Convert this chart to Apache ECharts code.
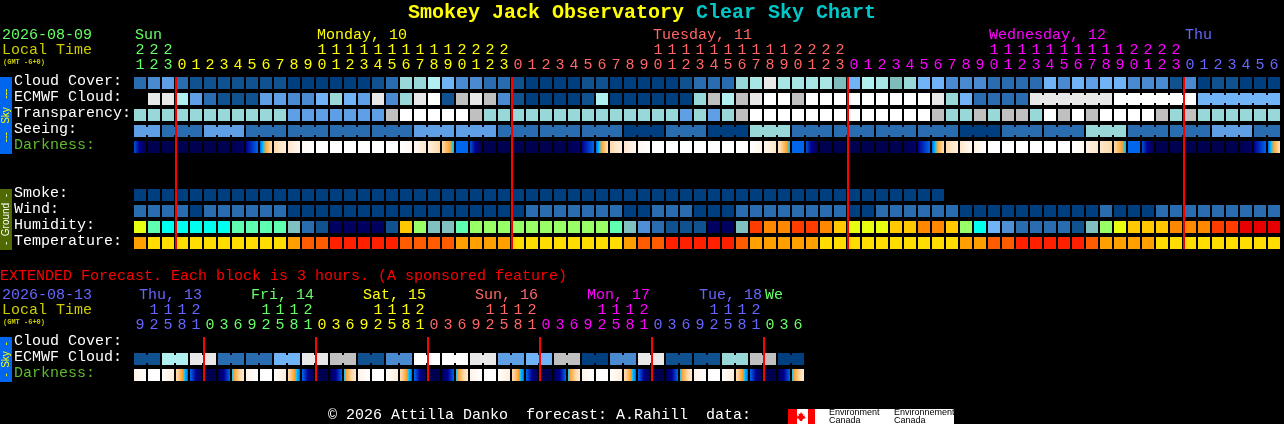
<!DOCTYPE html>
<html><head><meta charset="utf-8">
<style>html,body{margin:0;padding:0;background:#000;overflow:hidden}#c{width:1284px;height:424px}</style>
<script src="https://cdn.jsdelivr.net/npm/echarts@6/dist/echarts.min.js"></script>
</head><body><div id="c"></div>
<script>
const FONT = '"Liberation Mono", monospace';
const rowNames = ['Cloud Cover:', 'ECMWF Cloud:', 'Transparency:', 'Seeing:', 'Darkness:', '', '', 'Smoke:', 'Wind:', 'Humidity:', 'Temperature:'];
const extRowNames = ['Cloud Cover:', 'ECMWF Cloud:', 'Darkness:'];
const hours = [21,22,23,0,1,2,3,4,5,6,7,8,9,10,11,12,13,14,15,16,17,18,19,20,21,22,23,0,1,2,3,4,5,6,7,8,9,10,11,12,13,14,15,16,17,18,19,20,21,22,23,0,1,2,3,4,5,6,7,8,9,10,11,12,13,14,15,16,17,18,19,20,21,22,23,0,1,2,3,4,5,6];
const extHours = [9,12,15,18,21,0,3,6,9,12,15,18,21,0,3,6,9,12,15,18,21,0,3,6,9,12,15,18,21,0,3,6,9,12,15,18,21,0,3,6,9,12,15,18,21,0,3,6];
const midnights = [3,27,51,75];
const extMidnights = [5,13,21,29,37,45];
const dayColors = ['#66ff66','#ffff00','#ff6666','#ff00ff','#6666ff'];
const extDayColors = ['#6666ff','#66ff66','#ffff00','#ff6666','#ff00ff','#6666ff','#66ff66'];
const dayLabels = ['Sun','Monday, 10','Tuesday, 11','Wednesday, 12','Thu'];
const dayLabelCols = [0,13,37,61,75];
const extDayLabels = ['Thu, 13','Fri, 14','Sat, 15','Sun, 16','Mon, 17','Tue, 18','We'];
const extDayLabelX = [139,251,363,475,587,699,765];

/* sky scale, darkest to lightest */
const skyPalette = ['#003f7f','#10528f','#2a6cb0','#4a8ad0','#5f9fe5','#70b4f7','#98d8d8','#a8e6e6','#b0f0f0','#e8e8e8','#c0c0c0','#ffffff','#7fbdbd'];
const cloudCover = [2,3,4,2,1,1,1,1,1,1,1,0,0,0,0,0,0,1,2,6,6,8,5,3,3,2,2,1,0,0,0,0,1,1,0,0,0,0,0,1,2,2,2,6,7,9,7,7,7,7,12,5,8,7,12,6,5,5,3,3,3,2,2,2,2,5,3,5,4,5,5,3,3,3,1,3,0,1,1,0,0,0];
const ecmwfCloud = [-1,9,9,8,4,2,1,1,1,4,4,3,3,5,6,5,4,9,3,6,9,11,1,10,9,10,3,1,0,0,0,0,1,8,0,0,0,0,0,0,6,10,8,10,9,11,11,10,11,11,11,11,11,11,11,11,11,9,6,5,2,2,2,2,9,9,9,9,9,9,11,11,11,11,11,11,5,5,5,5,5,5];
const ecmwfMerged = [[64,69],[70,75],[76,81]];
const transparency = [6,6,6,6,6,6,6,6,6,6,6,4,4,4,4,4,4,4,10,11,11,11,11,11,10,6,6,6,6,6,6,6,6,6,6,6,6,6,6,4,6,4,6,10,11,11,11,11,11,11,11,11,11,11,11,11,11,10,6,6,10,6,10,10,6,11,10,11,10,11,11,11,11,10,6,10,6,6,6,6,6,6];
const seeingBlocks = [2,3,3,3,3,3,3,3,3,3,3,3,3,3,3,3,3,3,3,3,3,3,3,3,3,3,3,2];
const seeing = [4,2,4,2,2,2,2,4,4,2,2,2,0,2,0,6,2,2,2,2,0,2,2,6,2,2,4,2];
const smoke = [0,0,0,0,0,0,0,0,0,0,0,0,0,0,0,0,0,0,0,0,0,0,0,0,0,0,0,0,0,0,0,0,0,0,0,0,0,0,0,0,0,0,0,0,0,0,0,0,0,0,0,0,0,0,0,0,0,0];
const wind = [2,2,2,2,0,2,2,2,2,2,2,0,0,0,0,0,0,0,0,0,0,0,0,0,0,0,0,0,2,2,2,2,2,2,2,0,0,2,2,2,0,0,0,2,2,2,2,2,2,2,2,0,0,2,2,2,2,2,2,0,0,0,0,0,0,0,0,0,0,2,0,0,0,2,2,2,2,2,2,2,2,2];

const humidityPalette = ['#000060','#10528f','#2a6cb0','#4f8fd6','#70b4f7','#80c0c0','#00ffee','#5effb0','#99ff66','#e8ff10','#ffc800','#ff8800','#ff3c00','#e80000'];
const humidity = [9,7,6,6,6,6,6,7,7,7,7,5,2,1,0,0,0,0,1,10,8,5,5,7,8,8,8,8,8,8,8,8,8,8,7,5,3,2,1,1,1,0,0,5,12,11,11,12,12,11,10,9,9,9,10,10,11,11,10,8,6,4,3,2,2,2,2,1,5,8,9,10,10,10,11,11,11,12,12,13,13,13];
const temperaturePalette = ['#ff2000','#ff5c00','#ffa000','#ffdd00'];
const temperature = [2,3,3,3,3,3,3,3,3,3,3,2,1,1,0,0,0,0,0,1,1,1,1,2,2,2,2,3,3,3,3,3,3,3,3,2,1,1,0,0,0,0,0,1,2,2,2,2,2,3,3,3,3,3,3,3,3,3,3,2,2,1,1,0,0,0,0,0,1,2,2,2,2,3,3,3,3,3,3,3,3,3];

/* darkness: 0 = full daylight ... 6 = full night, at each block's left and right edge */
const darkScale = [[0,'#ffffff'],[1,'#fff0e0'],[2,'#ffd9a6'],[3,'#ffa030'],[3.4,'#00c8ff'],[4,'#0066ee'],[5,'#000090'],[6,'#000050']];
const darkStart = [4.2,6,6,6,6,6,6,6,5,4,1.9,1.4,.5,0,0,0,0,0,0,0,.5,1,2,4,4.2,6,6,6,6,6,6,6,5,4,1.9,1.4,.5,0,0,0,0,0,0,0,0,.6,1.6,4,4.2,6,6,6,6,6,6,6,5,4,1.9,1.4,1,0,0,0,0,0,0,0,1,1.4,2,4,4.2,6,6,6,6,6,6,6,5,4];
const darkEnd   = [6,6,6,6,6,6,6,5.6,4,1.8,1,.5,0,0,0,0,0,0,0,.5,1.4,2,3.5,4,6,6,6,6,6,6,6,5.6,4,1.8,1,.5,0,0,0,0,0,0,0,0,.6,1.5,3.5,4,6,6,6,6,6,6,6,5.6,4,1.8,1,.5,0,0,0,0,0,0,0,.5,1.4,2,3.5,4,6,6,6,6,6,6,6,5.6,4,1.8];
const extEcmwf = [1,8,9,2,2,5,9,10,1,3,11,11,9,4,5,10,0,3,9,1,1,6,10,0];
const extDarkStart = [.8,0,0,1.8,4,6,6,3.4,.8,0,0,1.8,4,6,6,3.4,.8,0,0,1.8,4,6,6,3.4,.8,0,0,1.8,4,6,6,3.4,.8,0,0,1.8,4,6,6,3.4,.8,0,0,1.8,4,6,6,3.4];
const extDarkEnd   = [0,0,1.2,4,6,6,4,1.2,0,0,1.2,4,6,6,4,1.2,0,0,1.2,4,6,6,4,1.2,0,0,1.2,4,6,6,4,1.2,0,0,1.2,4,6,6,4,1.2,0,0,1.2,4,6,6,4,1.2];

function scaleColor(v){
  for(let i=1;i<darkScale.length;i++){
    const [a,ca]=darkScale[i-1],[b,cb]=darkScale[i];
    if(v<=b) return echarts.color.lerp((v-a)/(b-a),[ca,cb]);
  }
  return darkScale[darkScale.length-1][1];
}
function gradient(a,b){
  const stops=[{offset:0,color:scaleColor(a)}];
  if(a!==b){
    const ks=darkScale.map(s=>s[0]).filter(k=>k>Math.min(a,b)&&k<Math.max(a,b));
    if(a>b) ks.reverse();
    ks.forEach(k=>stops.push({offset:(k-a)/(b-a),color:scaleColor(k)}));
  }
  stops.push({offset:1,color:scaleColor(b)});
  return new echarts.graphic.LinearGradient(0,0,1,0,stops);
}
function colsColor(cols,colors){ return i=>{let k=0;cols.forEach((c,n)=>{if(i>=c)k=n+1;});return colors[k];}; }
const hourColor = colsColor(midnights,dayColors);
const extColor  = colsColor(extMidnights,extDayColors);

function cellSeries(name,palette,data,xi,yi){
  return {type:'custom',name,xAxisIndex:xi,yAxisIndex:yi,clip:false,silent:true,data,encode:{x:0,y:1},
    renderItem(p,api){
      const c=api.coord([api.value(0),api.value(1)]),s=api.size([1,1]);
      const w=s[0]-2,h=s[1]-4,st={fill:palette[api.value(2)]};
      const kids=[{type:'rect',shape:{x:c[0]-w/2,y:c[1]-h/2,width:w,height:h},style:st}];
      if(api.value(3)) kids.push({type:'rect',shape:{x:c[0]+w/2,y:c[1]-h/2+2,width:2,height:h-4},style:st});
      return {type:'group',children:kids};
    }};
}
function darkSeries(start,end,row,xi,yi){
  return {type:'custom',name:'Darkness',xAxisIndex:xi,yAxisIndex:yi,clip:false,silent:true,
    data:start.map((v,i)=>[i,row,v,end[i]]),encode:{x:0,y:1},
    renderItem(p,api){
      const c=api.coord([api.value(0),api.value(1)]),s=api.size([1,1]);
      const w=s[0]-2,h=s[1]-4;
      return {type:'rect',shape:{x:c[0]-w/2,y:c[1]-h/2,width:w,height:h},style:{fill:gradient(api.value(2),api.value(3))}};
    }};
}
function midnightSeries(cols,lastRow,xi,yi){
  return {type:'custom',name:'Midnight',xAxisIndex:xi,yAxisIndex:yi,clip:false,silent:true,z:5,
    data:cols.map(c=>[c,0,lastRow]),encode:{x:0,y:1},
    renderItem(p,api){
      const c=api.coord([api.value(0),0]),e=api.coord([api.value(0),api.value(2)]),s=api.size([1,1]);
      const h=s[1]-4,x=c[0]-s[0]/2+1;
      return {type:'line',shape:{x1:x,y1:c[1]-h/2,x2:x,y2:e[1]+h/2},style:{stroke:'#ff0000',lineWidth:2}};
    }};
}
function rowData(values,row,merged){
  return values.map((v,i)=>[i,row,v,merged&&merged[i]?1:0]).filter(d=>d[2]>=0);
}
const ecmwfLinks = ecmwfCloud.map((v,i)=>ecmwfMerged.some(r=>i>=r[0]&&i<r[1]));
const seeingCells=[],seeingLinks=[];
seeingBlocks.forEach((n,b)=>{for(let k=0;k<n;k++){seeingCells.push(seeing[b]);seeingLinks.push(k<n-1);}});
const extCells=[],extLinks=[];
extEcmwf.forEach(v=>{extCells.push(v,v);extLinks.push(true,false);});

const skyData=[].concat(rowData(cloudCover,0),rowData(ecmwfCloud,1,ecmwfLinks),rowData(transparency,2),rowData(seeingCells,3,seeingLinks),rowData(smoke,7),rowData(wind,8));

function topAxis(grid,vals,colorOf,digit,offset){
  return {type:'category',gridIndex:grid,position:'top',offset,
    data:vals.map((h,i)=>({value:digit(h),textStyle:{color:colorOf(i)}})),
    axisLine:{show:false},axisTick:{show:false},splitLine:{show:false},
    axisLabel:{interval:0,margin:2,fontFamily:FONT,fontSize:15,hideOverlap:false}};
}
const ones=h=>String(h%10),tens=h=>h>=10?String(Math.floor(h/10)):'';
function rowAxis(grid,names){
  return {type:'category',gridIndex:grid,inverse:true,
    data:names.map(n=>({value:n,textStyle:{color:n==='Darkness:'?'#5dbb2d':'#ffffff',align:'left',verticalAlign:'bottom',lineHeight:4}})),
    axisLine:{show:false},axisTick:{show:false},splitLine:{show:false},
    axisLabel:{interval:0,align:'left',verticalAlign:'bottom',lineHeight:4,margin:119,fontFamily:FONT,fontSize:15}};
}
function text(t,x,y,color,size,weight){
  return {text:t,left:x,top:y-size/2,padding:0,textStyle:{color,fontSize:size,fontFamily:FONT,fontWeight:weight||'normal',lineHeight:size}};
}
const titles=[
  {text:'{a|Smokey Jack Observatory }{b|Clear Sky Chart}',left:408,top:3,padding:0,
   textStyle:{rich:{a:{color:'#ffff00',fontSize:20,fontWeight:'bold',fontFamily:FONT},b:{color:'#00c8c8',fontSize:20,fontWeight:'bold',fontFamily:FONT}}}},
  text('2026-08-09',2,35,'#66ff66',15),
  text('Local Time',2,50,'#cccc00',15),
  text('(GMT -6+0)',3,62,'#cccc00',7,'bold'),
  text('EXTENDED Forecast. Each block is 3 hours. (A sponsored feature)',0,276,'#ff0000',15),
  text('2026-08-13',2,295,'#6666ff',15),
  text('Local Time',2,310,'#cccc00',15),
  text('(GMT -6+0)',3,322,'#cccc00',7,'bold'),
  text('\u00a9 2026 Attilla Danko  forecast: A.Rahill  data:',328,415,'#ffffff',15)
];
dayLabels.forEach((d,i)=>titles.push(text(d,134+14*dayLabelCols[i]+1,35,dayColors[i],15)));
extDayLabels.forEach((d,i)=>titles.push(text(d,extDayLabelX[i],295,extDayColors[i],15)));

function band(x,y,h,fill,label,color){
  return [{type:'rect',shape:{x,y,width:12,height:h},style:{fill}},
    {type:'text',x:x+6,y:y+h/2,rotation:Math.PI/2,style:{text:label,fill:color,fontSize:10,fontFamily:'"Liberation Sans",sans-serif',align:'center',verticalAlign:'middle'}}];
}
const leaf=[[801,412],[802,414],[803.5,413.5],[803,416],[805,415.5],[804.5,417],[806,418],[803,419],[802,421],[801,421],[800,421],[799,419],[796,418],[797.5,417],[797,415.5],[799,416],[798.5,413.5],[800,414]];
const graphics=[].concat(
  band(0,77,77,'#0066ee','---   Sky   ---','#ffff00'),
  band(0,189,61,'#4f6a00','-  Ground  -','#ffffff'),
  band(0,337,45,'#0066ee','-  Sky  -','#ffff00'),
  [{type:'rect',shape:{x:788,y:409,width:166,height:15},style:{fill:'#ffffff'}},
   {type:'rect',shape:{x:788,y:409,width:9,height:15},style:{fill:'#ff0000'}},
   {type:'rect',shape:{x:808,y:409,width:7,height:15},style:{fill:'#ff0000'}},
   {type:'polygon',shape:{points:leaf},style:{fill:'#ff0000'}},
   {type:'text',x:829,y:409,style:{text:'Environment\nCanada',fill:'#000',fontSize:9,lineHeight:8,fontFamily:'"Liberation Sans",sans-serif'}},
   {type:'text',x:894,y:409,style:{text:'Environnement\nCanada',fill:'#000',fontSize:9,lineHeight:8,fontFamily:'"Liberation Sans",sans-serif'}}]
);

const chart=echarts.init(document.getElementById('c'),null,{renderer:'canvas',width:1284,height:424});
chart.setOption({
  backgroundColor:'#000',animation:false,title:titles,tooltip:{show:false},legend:{show:false},
  grid:[{left:133,top:75,width:1148,height:176,outerBoundsMode:'none'},{left:133,top:335,width:672,height:48,outerBoundsMode:'none'}],
  xAxis:[
    topAxis(0,hours,hourColor,ones,0),topAxis(0,hours,hourColor,tens,15),
    topAxis(1,extHours,extColor,ones,0),topAxis(1,extHours,extColor,tens,15)
  ],
  yAxis:[rowAxis(0,rowNames),rowAxis(1,extRowNames)],
  series:[
    cellSeries('Sky',skyPalette,skyData,0,0),
    darkSeries(darkStart,darkEnd,4,0,0),
    cellSeries('Humidity',humidityPalette,rowData(humidity,9),0,0),
    cellSeries('Temperature',temperaturePalette,rowData(temperature,10),0,0),
    midnightSeries(midnights,10,0,0),
    cellSeries('Extended ECMWF',skyPalette,rowData(extCells,1,extLinks),2,1),
    darkSeries(extDarkStart,extDarkEnd,2,2,1),
    midnightSeries(extMidnights,2,2,1)
  ],
  graphic:{elements:graphics}
});
</script></body></html>
